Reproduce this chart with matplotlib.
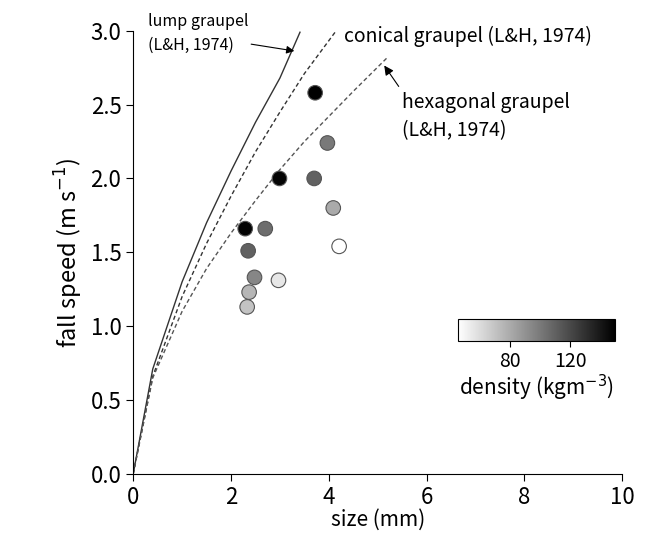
import matplotlib
matplotlib.use("Agg")
import matplotlib.pyplot as plt
import numpy as np

# observed graupel
size_mm = [2.29, 2.35, 2.70, 2.48, 2.37, 2.33, 2.97, 2.99, 3.72, 3.70, 3.97, 4.09, 4.21]
speed = [1.66, 1.51, 1.66, 1.33, 1.23, 1.13, 1.31, 2.00, 2.58, 2.00, 2.24, 1.80, 1.54]
density = [148, 110, 105, 95, 75, 70, 55, 148, 150, 110, 100, 80, 45]

# Locatelli & Hobbs (1974) curves
lump_d = [0, 0.4, 1.0, 1.5, 2.0, 2.5, 3.0, 3.41]
lump_v = [0, 0.71, 1.30, 1.70, 2.05, 2.38, 2.68, 2.99]
conical_d = [0, 0.4, 1.0, 1.5, 2.0, 2.5, 3.0, 3.5, 4.15]
conical_v = [0, 0.66, 1.20, 1.56, 1.88, 2.18, 2.45, 2.71, 3.00]
hex_d = [0, 0.4, 1.0, 1.5, 2.0, 2.5, 3.0, 3.5, 4.0, 4.5, 5.2]
hex_v = [0, 0.65, 1.10, 1.39, 1.63, 1.85, 2.06, 2.25, 2.42, 2.59, 2.82]

plt.rcParams["font.family"] = ["Noto Sans CJK JP", "DejaVu Sans"]
fig = plt.figure(figsize=(6.53, 5.49), dpi=100)
ax = fig.add_axes([0.204, 0.137, 0.749, 0.807])

ax.plot(lump_d, lump_v, color="#333333", lw=1.0)
ax.plot(conical_d, conical_v, color="#333333", lw=1.0, ls=(0, (3, 2)))
ax.plot(hex_d, hex_v, color="#555555", lw=1.0, ls=(0, (3, 2)))

sc = ax.scatter(size_mm, speed, c=density, cmap="gray_r", vmin=45, vmax=150,
                s=110, edgecolors="#555555", linewidths=0.8, zorder=3, clip_on=False)

ax.set_xlim(0, 10)
ax.set_ylim(0, 3.0)
ax.set_xticks([0, 2, 4, 6, 8, 10])
ax.set_yticks(np.arange(0, 3.01, 0.5))
ax.set_yticklabels([f"{v:.1f}" for v in np.arange(0, 3.01, 0.5)])
for s in ["top", "right"]:
    ax.spines[s].set_visible(False)
ax.tick_params(direction="out", labelsize=16, length=5)
ax.set_xlabel("size (mm)", fontsize=15, labelpad=0)
ax.set_ylabel("fall speed (m s$^{-1}$)", fontsize=17)

ax.annotate("lump graupel\n(L&H, 1974)", xy=(3.35, 2.86), xytext=(0.3, 3.12),
            fontsize=11.5, ha="left", va="top", annotation_clip=False,
            linespacing=1.5,
            arrowprops=dict(arrowstyle="-|>", color="black", lw=0.8,
                            shrinkA=0, relpos=(0.98, 0.25)))
ax.text(4.3, 2.96, "conical graupel (L&H, 1974)", fontsize=14, va="center")
ax.annotate("hexagonal graupel\n(L&H, 1974)", xy=(5.1, 2.78), xytext=(5.5, 2.25),
            fontsize=14, ha="left", va="bottom", linespacing=1.5,
            arrowprops=dict(arrowstyle="-|>", color="black", lw=0.8,
                            relpos=(0.0, 1.0)))

cax = fig.add_axes([458 / 653, 1 - 341 / 549, 157 / 653, 22 / 549])
cb = fig.colorbar(sc, cax=cax, orientation="horizontal", ticks=[80, 120])
cb.outline.set_linewidth(0.8)
cax.tick_params(labelsize=14, direction="out", length=4)
cax.set_xlabel("density (kgm$^{-3}$)", fontsize=15, labelpad=0)

fig.savefig("out.png", dpi=100)
